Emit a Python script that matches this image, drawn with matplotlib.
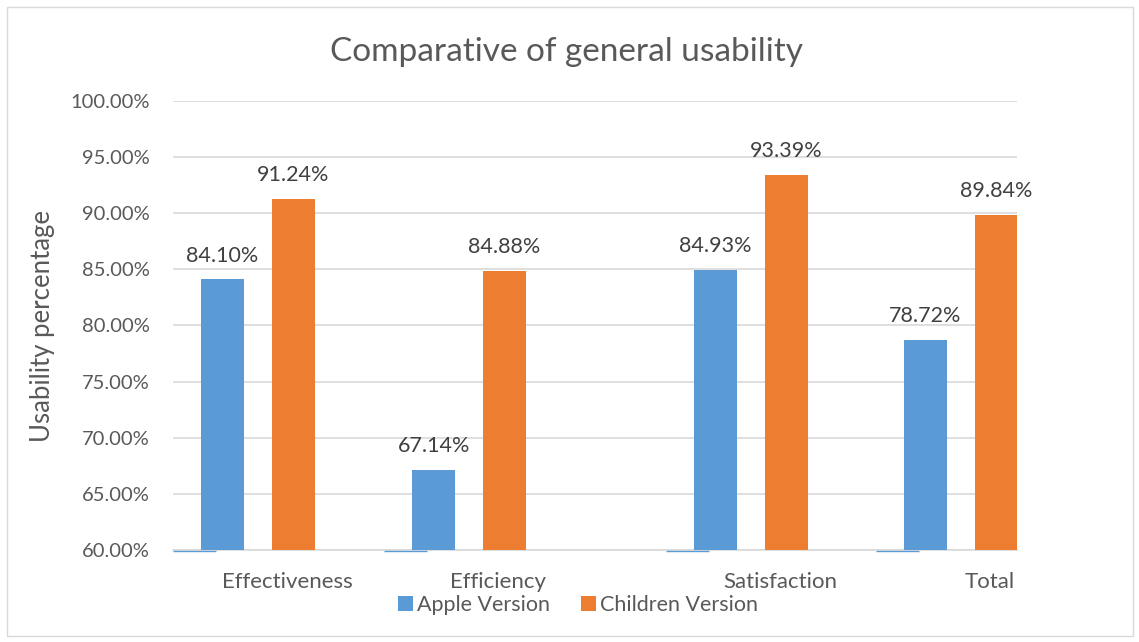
import matplotlib.pyplot as plt
from matplotlib.patches import Rectangle
import numpy as np

categories = ['Effectiveness', 'Efficiency', 'Satisfaction', 'Total']
apple = [84.10, 67.14, 84.93, 78.72]
children = [91.24, 84.88, 93.39, 89.84]
series_names = ['Apple Version', 'Children Version']

# where each category group starts along the axis (axis runs 0..4)
group_start = np.array([0.0, 1.0, 2.336, 3.33])
bar_w = 0.204
blue = '#5B9BD5'
orange = '#ED7D31'
txt = '#595959'

plt.rcParams['font.family'] = ['Lato', 'DejaVu Sans']

fig = plt.figure(figsize=(11.39, 6.42), dpi=100)
ax = fig.add_axes([173 / 1139, 92 / 642, 844 / 1139, 449 / 642])

# thin border around the whole chart area
fig.patches.append(Rectangle((7 / 1139, 6 / 642), 1126 / 1139, 629 / 642,
                             transform=fig.transFigure, fill=False,
                             edgecolor='#d9d9d9', lw=1))

x_blue = group_start + 0.133 + bar_w / 2
x_orange = group_start + 0.469 + bar_w / 2

ax.bar(x_blue, np.array(apple) - 60, bottom=60, width=bar_w, color=blue,
       label=series_names[0], zorder=3)
ax.bar(x_orange, np.array(children) - 60, bottom=60, width=bar_w, color=orange,
       label=series_names[1], zorder=3)

# empty series sitting on the baseline
ax.hlines([59.9] * 4, group_start, group_start + bar_w, color=blue, lw=1,
          clip_on=False, zorder=4)

for xs, vals in [(x_blue, apple), (x_orange, children)]:
    for x, v in zip(xs, vals):
        ax.annotate(f'{v:.2f}%', (x, v), xytext=(0, 10), textcoords='offset points',
                    ha='center', va='bottom', fontsize=15.5, color='#404040')

ax.set_xlim(0, 4)
ax.set_ylim(60, 100)
ax.set_yticks(np.arange(60, 100.1, 5))
ax.set_yticklabels([f'{t:.2f}%' for t in np.arange(60, 100.1, 5)])
ax.set_xticks(group_start + 0.54)
ax.set_xticklabels(categories)
ax.tick_params(axis='y', length=0, labelsize=14.5, colors=txt, pad=17)
ax.tick_params(axis='x', length=0, labelsize=16, colors=txt, pad=16)

ax.grid(axis='y', color='#d9d9d9', lw=1.2, zorder=0)
for s in ['top', 'right', 'left']:
    ax.spines[s].set_visible(False)
ax.spines['bottom'].set_color('#d9d9d9')
ax.spines['bottom'].set_linewidth(1.2)

ax.set_ylabel('Usability percentage', fontsize=18.5, color=txt)
ax.yaxis.set_label_coords(-(173 - 55) / 844, 0.5)
fig.text(566 / 1139, 1 - 52 / 642, 'Comparative of general usability',
         ha='center', va='center', fontsize=24, color=txt)

fig.legend(loc='center', bbox_to_anchor=(578 / 1139, 1 - 605 / 642), ncol=2,
           frameon=False, fontsize=15.5, labelcolor=txt, handlelength=0.7,
           handleheight=0.7, handletextpad=0.2, columnspacing=1.4)

fig.savefig('out.png', dpi=100)
